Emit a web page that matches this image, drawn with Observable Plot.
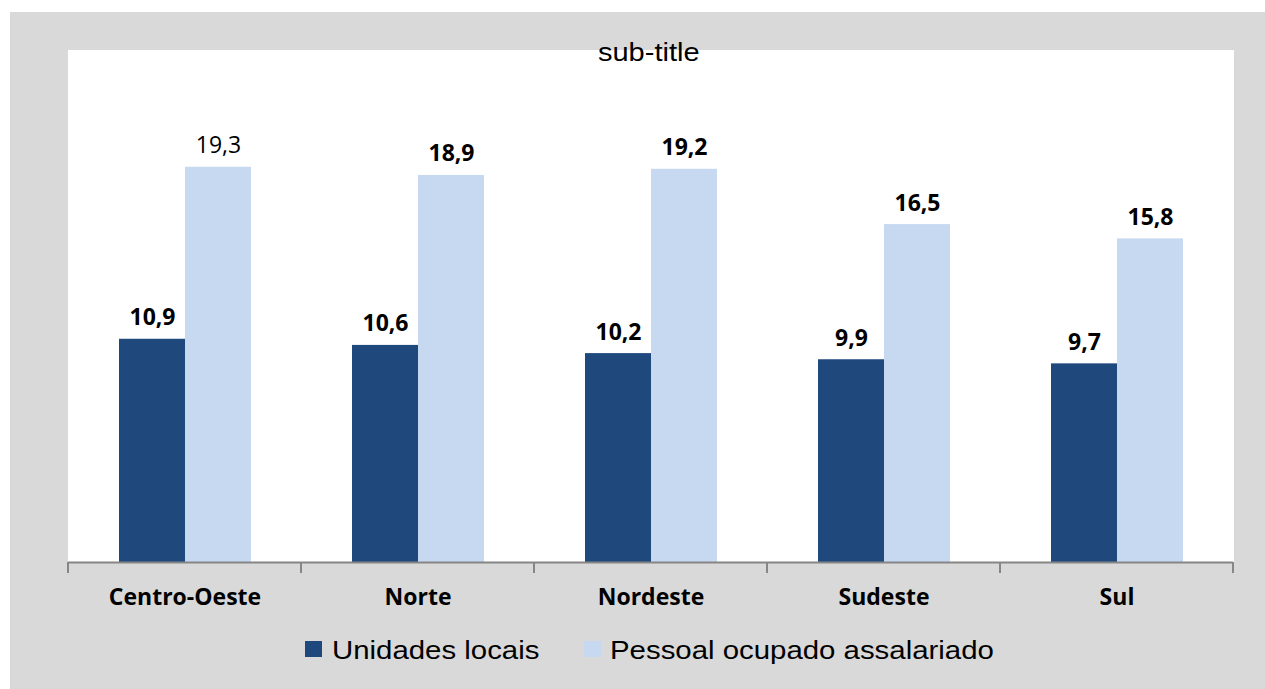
<!DOCTYPE html>
<html>
<head>
<meta charset="utf-8">
<script src="https://cdn.jsdelivr.net/npm/d3@7"></script>
<script src="https://cdn.jsdelivr.net/npm/@observablehq/plot@0.6"></script>
<style>
  html, body { margin: 0; padding: 0; background: #ffffff; }
  #chart { position: absolute; left: 10px; top: 12px; width: 1255px; height: 677px; background: #d9d9d9; overflow: hidden; }
  #chart svg { position: absolute; left: 0; top: 0; }
  .sub { position: absolute; left: 58px; width: 1165px; top: 28px; text-align: center; font-family: "Liberation Sans", Arial, sans-serif; font-size: 25px; line-height: 25px; color: #000; }
  .sub span { display: inline-block; transform: scaleX(1.16); margin-left: -4px; }
  .sw { position: absolute; width: 17px; height: 16px; top: 629px; }
  .lt { position: absolute; top: 625px; font-family: "Liberation Sans", Arial, sans-serif; font-size: 26px; line-height: 26px; color: #000; white-space: nowrap; transform: scaleX(1.13); transform-origin: left center; }
</style>
</head>
<body>
<div id="chart"></div>
<script>
const regions = ["Centro-Oeste", "Norte", "Nordeste", "Sudeste", "Sul"];
const seriesNames = ["Unidades locais", "Pessoal ocupado assalariado"];
const unidades = [10.9, 10.6, 10.2, 9.9, 9.7];
const pessoal = [19.3, 18.9, 19.2, 16.5, 15.8];
const seriesColors = ["#1f497d", "#c6d9f1"];
const plainLabels = [["Centro-Oeste", "Pessoal ocupado assalariado"]];
const subtitle = "sub-title";

const values = [unidades, pessoal];
const data = regions.flatMap((r, i) => seriesNames.map((s, j) => ({region: r, series: s, value: values[j][i]})));
const isPlain = d => plainLabels.some(([r, s]) => r === d.region && s === d.series);
const fmt = v => d3.format(".1f")(v).replace(".", ",");

const W = 1255, H = 610, mL = 58, mR = 32, mT = 38, mB = 60;

const plot = Plot.plot({
  width: W, height: H,
  marginLeft: mL, marginRight: mR, marginTop: mT, marginBottom: mB,
  style: {background: "transparent", fontFamily: "'Open Sans', sans-serif", color: "#000"},
  fx: {domain: regions, padding: 0, label: null},
  x: {domain: seriesNames, paddingInner: 0, paddingOuter: 0.74, axis: null},
  y: {domain: [0, 25], axis: null},
  color: {domain: seriesNames, range: seriesColors},
  marks: [
    Plot.frame({fill: "white", stroke: "white", strokeWidth: 1.5, shapeRendering: "crispEdges"}),
    Plot.barY(data, {fx: "region", x: "series", y: "value", fill: "series"}),
    Plot.ruleY([0], {stroke: "#868686", strokeWidth: 2}),
    Plot.text(data.filter(d => !isPlain(d)), {fx: "region", x: "series", y: "value", text: d => fmt(d.value), lineAnchor: "bottom", dy: -14, fontSize: 23, fontWeight: "bold", fill: "#000"}),
    Plot.text(data.filter(isPlain), {fx: "region", x: "series", y: "value", text: d => fmt(d.value), lineAnchor: "bottom", dy: -14, fontSize: 23, fontWeight: "normal", fill: "#000"}),
    Plot.axisFx({anchor: "bottom", tickSize: 0, tickPadding: 26, fontSize: 23, fontWeight: "bold", label: null})
  ]
});

// boundary ticks below the baseline, at facet band edges from the fx scale
const fxs = plot.scale("fx");
const edges = regions.map(r => fxs.apply(r)).concat([fxs.apply(regions[regions.length - 1]) + fxs.bandwidth]);
const yBase = H - mB;
d3.select(plot).append("g")
  .attr("stroke", "#868686").attr("stroke-width", 2)
  .selectAll("line").data(edges).join("line")
  .attr("x1", d => d).attr("x2", d => d)
  .attr("y1", yBase).attr("y2", yBase + 11);

const chart = document.getElementById("chart");
chart.appendChild(plot);

const sub = document.createElement("div");
sub.className = "sub";
sub.innerHTML = "<span></span>";
sub.firstChild.textContent = subtitle;
chart.appendChild(sub);

const legendPos = [[295, 322], [574, 600]];
seriesNames.forEach((s, i) => {
  const sw = document.createElement("div");
  sw.className = "sw";
  sw.style.left = legendPos[i][0] + "px";
  sw.style.background = seriesColors[i];
  chart.appendChild(sw);
  const t = document.createElement("div");
  t.className = "lt";
  t.style.left = legendPos[i][1] + "px";
  t.textContent = s;
  chart.appendChild(t);
});
</script>
</body>
</html>
